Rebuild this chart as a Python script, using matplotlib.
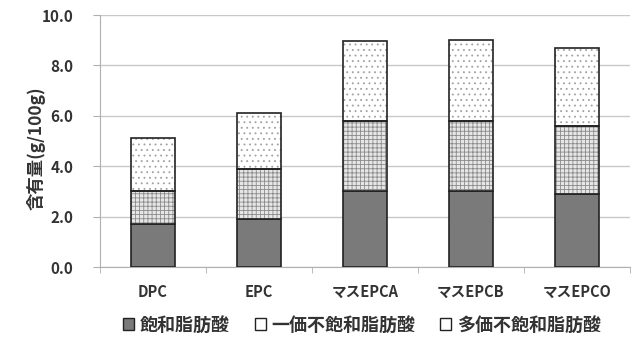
import numpy as np
import matplotlib as mpl
from matplotlib import pyplot as plt

mpl.rcParams['font.family'] = ['Noto Sans CJK JP', 'DejaVu Sans']
mpl.rcParams['hatch.linewidth'] = 0.6

categories = ['DPC', 'EPC', 'マスEPCA', 'マスEPCB', 'マスEPCO']
saturated = [1.7, 1.9, 3.0, 3.0, 2.9]
mono = [1.3, 2.0, 2.8, 2.8, 2.7]
poly = [2.1, 2.2, 3.15, 3.2, 3.1]
series_labels = ['飽和脂肪酸', '一価不飽和脂肪酸', '多価不飽和脂肪酸']
yticks = [0, 2, 4, 6, 8, 10]


def main():
    fig = plt.figure(figsize=(6.43, 3.44), dpi=100)
    ax = fig.add_axes([100 / 643, 1 - 267 / 344, 530 / 643, 252 / 344])

    x = np.arange(len(categories))
    w = 0.42
    sat = np.array(saturated)
    mon = np.array(mono)
    pol = np.array(poly)

    ax.bar(x, sat, w, color='#7a7a7a', edgecolor='#222222', lw=1.2, zorder=3)
    ax.bar(x, mon, w, bottom=sat, color='#e6e6e6', edgecolor='#8a8a8a', hatch='++++', lw=0, zorder=3)
    ax.bar(x, mon, w, bottom=sat, fill=False, edgecolor='#222222', lw=1.2, zorder=4)
    ax.bar(x, pol, w, bottom=sat + mon, color='white', edgecolor='#a0a0a0', hatch='...', lw=0, zorder=3)
    ax.bar(x, pol, w, bottom=sat + mon, fill=False, edgecolor='#222222', lw=1.2, zorder=4)

    # legend proxies
    h1 = mpl.patches.Patch(facecolor='#7a7a7a', edgecolor='#222222', label=series_labels[0])
    h2 = mpl.patches.Patch(facecolor='white', edgecolor='#222222', label=series_labels[1])
    h3 = mpl.patches.Patch(facecolor='white', edgecolor='#222222', label=series_labels[2])
    fig.legend(handles=[h1, h2, h3], loc='center', bbox_to_anchor=(362 / 643, 1 - 325 / 344),
               ncol=3, frameon=False, handlelength=0.6, handleheight=0.6,
               handletextpad=0.3, columnspacing=1.4,
               prop={'weight': 'bold', 'size': 13})
    for t in fig.legends[0].get_texts():
        t.set_color('#333333')

    ax.set_xlim(-0.5, len(categories) - 0.5)
    ax.set_ylim(0, 10)
    ax.set_yticks(yticks)
    ax.set_yticklabels([f'{v:.1f}' for v in yticks], fontweight='bold', fontsize=11, color='#333333')
    ax.yaxis.grid(True, color='#c8c8c8', lw=1, zorder=0)
    ax.set_xticks(x)
    ax.set_xticklabels(categories, fontweight='bold', fontsize=10.5, color='#333333')
    ax.set_xticks(np.arange(len(categories) + 1) - 0.5, minor=True)
    ax.tick_params(axis='x', which='major', length=0, pad=12)
    ax.tick_params(axis='x', which='minor', length=4, color='#b0b0b0')
    ax.tick_params(axis='y', length=5, color='#b0b0b0', pad=14)
    ax.set_ylabel('含有量(g/100g)', fontweight='bold', fontsize=12.5, color='#333333')
    ax.yaxis.set_label_coords(-54 / 530, 0.47)
    for s in ['top', 'right']:
        ax.spines[s].set_visible(False)
    ax.spines['left'].set_color('#b0b0b0')
    ax.spines['bottom'].set_color('#b0b0b0')

    plt.savefig('out.png', dpi=100)


if __name__ == '__main__':
    main()
